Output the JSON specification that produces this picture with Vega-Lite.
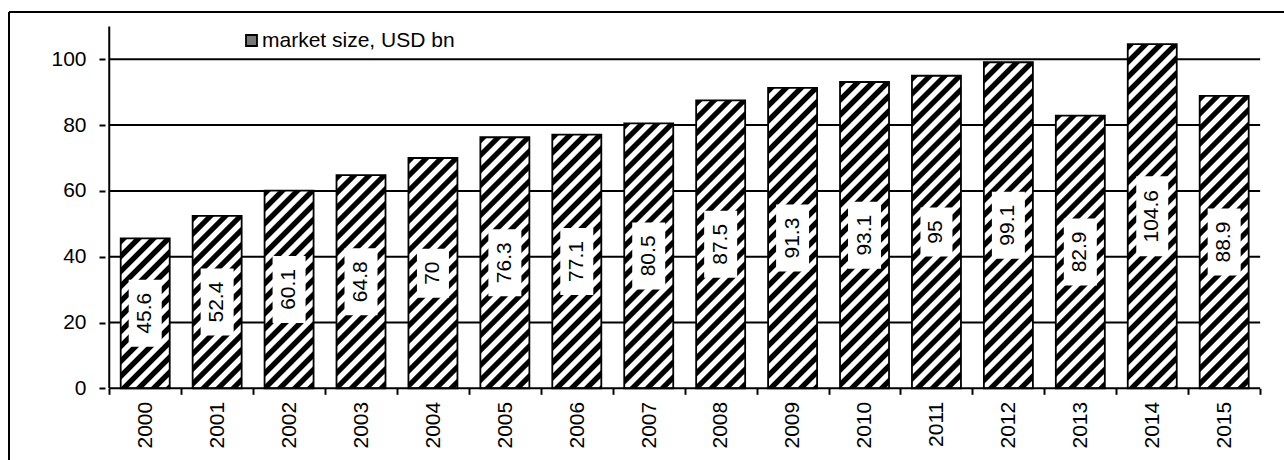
{
  "$schema": "https://vega.github.io/schema/vega-lite/v6.json",
  "width": 1275,
  "height": 448,
  "autosize": {"type": "none"},
  "padding": {"left": 9, "top": 12, "right": 0, "bottom": 0},
  "background": "white",
  "params": [
    {"name": "stripes", "value": [
      {"offset":0,"color":"#000"},{"offset":0.0125,"color":"#000"},{"offset":0.01563,"color":"#fff"},{"offset":0.02813,"color":"#fff"},
      {"offset":0.03125,"color":"#000"},{"offset":0.04375,"color":"#000"},{"offset":0.04688,"color":"#fff"},{"offset":0.05938,"color":"#fff"},
      {"offset":0.0625,"color":"#000"},{"offset":0.075,"color":"#000"},{"offset":0.07813,"color":"#fff"},{"offset":0.09063,"color":"#fff"},
      {"offset":0.09375,"color":"#000"},{"offset":0.10625,"color":"#000"},{"offset":0.10938,"color":"#fff"},{"offset":0.12188,"color":"#fff"},
      {"offset":0.125,"color":"#000"},{"offset":0.1375,"color":"#000"},{"offset":0.14063,"color":"#fff"},{"offset":0.15313,"color":"#fff"},
      {"offset":0.15625,"color":"#000"},{"offset":0.16875,"color":"#000"},{"offset":0.17188,"color":"#fff"},{"offset":0.18438,"color":"#fff"},
      {"offset":0.1875,"color":"#000"},{"offset":0.2,"color":"#000"},{"offset":0.20313,"color":"#fff"},{"offset":0.21563,"color":"#fff"},
      {"offset":0.21875,"color":"#000"},{"offset":0.23125,"color":"#000"},{"offset":0.23438,"color":"#fff"},{"offset":0.24688,"color":"#fff"},
      {"offset":0.25,"color":"#000"},{"offset":0.2625,"color":"#000"},{"offset":0.26563,"color":"#fff"},{"offset":0.27813,"color":"#fff"},
      {"offset":0.28125,"color":"#000"},{"offset":0.29375,"color":"#000"},{"offset":0.29688,"color":"#fff"},{"offset":0.30938,"color":"#fff"},
      {"offset":0.3125,"color":"#000"},{"offset":0.325,"color":"#000"},{"offset":0.32813,"color":"#fff"},{"offset":0.34063,"color":"#fff"},
      {"offset":0.34375,"color":"#000"},{"offset":0.35625,"color":"#000"},{"offset":0.35938,"color":"#fff"},{"offset":0.37188,"color":"#fff"},
      {"offset":0.375,"color":"#000"},{"offset":0.3875,"color":"#000"},{"offset":0.39063,"color":"#fff"},{"offset":0.40313,"color":"#fff"},
      {"offset":0.40625,"color":"#000"},{"offset":0.41875,"color":"#000"},{"offset":0.42188,"color":"#fff"},{"offset":0.43438,"color":"#fff"},
      {"offset":0.4375,"color":"#000"},{"offset":0.45,"color":"#000"},{"offset":0.45313,"color":"#fff"},{"offset":0.46563,"color":"#fff"},
      {"offset":0.46875,"color":"#000"},{"offset":0.48125,"color":"#000"},{"offset":0.48438,"color":"#fff"},{"offset":0.49688,"color":"#fff"},
      {"offset":0.5,"color":"#000"},{"offset":0.5125,"color":"#000"},{"offset":0.51563,"color":"#fff"},{"offset":0.52813,"color":"#fff"},
      {"offset":0.53125,"color":"#000"},{"offset":0.54375,"color":"#000"},{"offset":0.54688,"color":"#fff"},{"offset":0.55938,"color":"#fff"},
      {"offset":0.5625,"color":"#000"},{"offset":0.575,"color":"#000"},{"offset":0.57813,"color":"#fff"},{"offset":0.59063,"color":"#fff"},
      {"offset":0.59375,"color":"#000"},{"offset":0.60625,"color":"#000"},{"offset":0.60938,"color":"#fff"},{"offset":0.62188,"color":"#fff"},
      {"offset":0.625,"color":"#000"},{"offset":0.6375,"color":"#000"},{"offset":0.64063,"color":"#fff"},{"offset":0.65313,"color":"#fff"},
      {"offset":0.65625,"color":"#000"},{"offset":0.66875,"color":"#000"},{"offset":0.67188,"color":"#fff"},{"offset":0.68438,"color":"#fff"},
      {"offset":0.6875,"color":"#000"},{"offset":0.7,"color":"#000"},{"offset":0.70313,"color":"#fff"},{"offset":0.71563,"color":"#fff"},
      {"offset":0.71875,"color":"#000"},{"offset":0.73125,"color":"#000"},{"offset":0.73438,"color":"#fff"},{"offset":0.74688,"color":"#fff"},
      {"offset":0.75,"color":"#000"},{"offset":0.7625,"color":"#000"},{"offset":0.76563,"color":"#fff"},{"offset":0.77813,"color":"#fff"},
      {"offset":0.78125,"color":"#000"},{"offset":0.79375,"color":"#000"},{"offset":0.79688,"color":"#fff"},{"offset":0.80938,"color":"#fff"},
      {"offset":0.8125,"color":"#000"},{"offset":0.825,"color":"#000"},{"offset":0.82813,"color":"#fff"},{"offset":0.84063,"color":"#fff"},
      {"offset":0.84375,"color":"#000"},{"offset":0.85625,"color":"#000"},{"offset":0.85938,"color":"#fff"},{"offset":0.87188,"color":"#fff"},
      {"offset":0.875,"color":"#000"},{"offset":0.8875,"color":"#000"},{"offset":0.89063,"color":"#fff"},{"offset":0.90313,"color":"#fff"},
      {"offset":0.90625,"color":"#000"},{"offset":0.91875,"color":"#000"},{"offset":0.92188,"color":"#fff"},{"offset":0.93438,"color":"#fff"},
      {"offset":0.9375,"color":"#000"},{"offset":0.95,"color":"#000"},{"offset":0.95313,"color":"#fff"},{"offset":0.96563,"color":"#fff"},
      {"offset":0.96875,"color":"#000"},{"offset":0.98125,"color":"#000"},{"offset":0.98438,"color":"#fff"},{"offset":0.99688,"color":"#fff"}
    ]}
  ],
  "datasets": {
    "market": [
      {"year": 2000, "value": 45.6},
      {"year": 2001, "value": 52.4},
      {"year": 2002, "value": 60.1},
      {"year": 2003, "value": 64.8},
      {"year": 2004, "value": 70},
      {"year": 2005, "value": 76.3},
      {"year": 2006, "value": 77.1},
      {"year": 2007, "value": 80.5},
      {"year": 2008, "value": 87.5},
      {"year": 2009, "value": 91.3},
      {"year": 2010, "value": 93.1},
      {"year": 2011, "value": 95},
      {"year": 2012, "value": 99.1},
      {"year": 2013, "value": 82.9},
      {"year": 2014, "value": 104.6},
      {"year": 2015, "value": 88.9}
    ],
    "grid": [{"tick": 20}, {"tick": 40}, {"tick": 60}, {"tick": 80}, {"tick": 100}],
    "axisline": [{"axis": "main"}]
  },
  "config": {
    "view": {"stroke": "black", "strokeWidth": 2, "strokeDash": [1275, 1723, 448, 0]},
    "font": "Liberation Sans",
    "axis": {"labelFont": "Liberation Sans", "labelFontSize": 21, "labelColor": "black", "tickColor": "black", "tickWidth": 2}
  },
  "layer": [
    {
      "layer": [
        {
          "data": {"name": "grid"},
          "mark": {"type": "rule", "stroke": "black", "strokeWidth": 2},
          "encoding": {
            "y": {"field": "tick", "type": "quantitative", "title": null},
            "x": {"datum": 1999.5},
            "x2": {"datum": 2015.5}
          }
        },
        {
          "data": {"name": "axisline"},
          "mark": {"type": "rule", "stroke": "black", "strokeWidth": 2},
          "encoding": {
            "x": {"datum": 1999.5},
            "y": {"datum": 0},
            "y2": {"datum": 110}
          }
        },
        {
          "data": {"name": "market"},
          "mark": {"type": "bar", "orient": "vertical", "width": 49, "strokeWidth": 1.8},
          "encoding": {
            "x": {
              "field": "year", "type": "quantitative", "title": null,
              "scale": {"domain": [1998.17586, 2015.76207], "nice": false, "zero": false},
              "axis": {
                "values": [1999.5, 2000.5, 2001.5, 2002.5, 2003.5, 2004.5, 2005.5, 2006.5, 2007.5, 2008.5, 2009.5, 2010.5, 2011.5, 2012.5, 2013.5, 2014.5, 2015.5],
                "labelExpr": "datum.value > 2015 ? '' : '' + (datum.value + 0.5)",
                "labelOffset": 36.25,
                "labelAngle": 270,
                "labelAlign": "right",
                "labelBaseline": "middle",
                "labelPadding": 7,
                "labelOverlap": false,
                "labelFlush": false,
                "domain": false,
                "grid": false,
                "tickSize": 6,
                "offset": -71.7,
                "title": null
              }
            },
            "y": {
              "field": "value", "type": "quantitative", "title": null,
              "scale": {"domain": [-21.793, 114.377], "nice": false, "zero": false},
              "axis": {
                "values": [0, 20, 40, 60, 80, 100],
                "domain": false,
                "grid": false,
                "tickSize": 6,
                "labelPadding": 13,
                "offset": -96,
                "title": null
              }
            },
            "stroke": {
              "datum": "market size, USD bn",
              "scale": {"range": ["black"]},
              "legend": {
                "orient": "none", "legendX": 232, "legendY": 18, "title": null,
                "symbolType": "square", "symbolSize": 121, "symbolStrokeWidth": 1.8,
                "symbolStrokeColor": "black",
                "symbolFillColor": {"expr": "{gradient:'linear',x1:0,y1:0,x2:1,y2:1,stops:[{offset:0,color:'#fff'},{offset:0.5,color:'#fff'},{offset:0.5,color:'#000'},{offset:1,color:'#000'}]}"},
                "labelFont": "Liberation Sans", "labelFontSize": 21, "labelColor": "black",
                "labelOffset": 0, "labelLimit": 0, "padding": 0
              }
            },
            "fill": {
              "condition": [
                {"test": "datum.year == 2000", "value": {"expr": "{gradient:'linear',x1:0,y1:0,x2:480*49/(2401+pow(45.6*3.29,2)),y2:480*45.6*3.29/(2401+pow(45.6*3.29,2)),stops:stripes}"}},
                {"test": "datum.year == 2001", "value": {"expr": "{gradient:'linear',x1:0,y1:0,x2:480*49/(2401+pow(52.4*3.29,2)),y2:480*52.4*3.29/(2401+pow(52.4*3.29,2)),stops:stripes}"}},
                {"test": "datum.year == 2002", "value": {"expr": "{gradient:'linear',x1:0,y1:0,x2:480*49/(2401+pow(60.1*3.29,2)),y2:480*60.1*3.29/(2401+pow(60.1*3.29,2)),stops:stripes}"}},
                {"test": "datum.year == 2003", "value": {"expr": "{gradient:'linear',x1:0,y1:0,x2:480*49/(2401+pow(64.8*3.29,2)),y2:480*64.8*3.29/(2401+pow(64.8*3.29,2)),stops:stripes}"}},
                {"test": "datum.year == 2004", "value": {"expr": "{gradient:'linear',x1:0,y1:0,x2:480*49/(2401+pow(70*3.29,2)),y2:480*70*3.29/(2401+pow(70*3.29,2)),stops:stripes}"}},
                {"test": "datum.year == 2005", "value": {"expr": "{gradient:'linear',x1:0,y1:0,x2:480*49/(2401+pow(76.3*3.29,2)),y2:480*76.3*3.29/(2401+pow(76.3*3.29,2)),stops:stripes}"}},
                {"test": "datum.year == 2006", "value": {"expr": "{gradient:'linear',x1:0,y1:0,x2:480*49/(2401+pow(77.1*3.29,2)),y2:480*77.1*3.29/(2401+pow(77.1*3.29,2)),stops:stripes}"}},
                {"test": "datum.year == 2007", "value": {"expr": "{gradient:'linear',x1:0,y1:0,x2:480*49/(2401+pow(80.5*3.29,2)),y2:480*80.5*3.29/(2401+pow(80.5*3.29,2)),stops:stripes}"}},
                {"test": "datum.year == 2008", "value": {"expr": "{gradient:'linear',x1:0,y1:0,x2:480*49/(2401+pow(87.5*3.29,2)),y2:480*87.5*3.29/(2401+pow(87.5*3.29,2)),stops:stripes}"}},
                {"test": "datum.year == 2009", "value": {"expr": "{gradient:'linear',x1:0,y1:0,x2:480*49/(2401+pow(91.3*3.29,2)),y2:480*91.3*3.29/(2401+pow(91.3*3.29,2)),stops:stripes}"}},
                {"test": "datum.year == 2010", "value": {"expr": "{gradient:'linear',x1:0,y1:0,x2:480*49/(2401+pow(93.1*3.29,2)),y2:480*93.1*3.29/(2401+pow(93.1*3.29,2)),stops:stripes}"}},
                {"test": "datum.year == 2011", "value": {"expr": "{gradient:'linear',x1:0,y1:0,x2:480*49/(2401+pow(95*3.29,2)),y2:480*95*3.29/(2401+pow(95*3.29,2)),stops:stripes}"}},
                {"test": "datum.year == 2012", "value": {"expr": "{gradient:'linear',x1:0,y1:0,x2:480*49/(2401+pow(99.1*3.29,2)),y2:480*99.1*3.29/(2401+pow(99.1*3.29,2)),stops:stripes}"}},
                {"test": "datum.year == 2013", "value": {"expr": "{gradient:'linear',x1:0,y1:0,x2:480*49/(2401+pow(82.9*3.29,2)),y2:480*82.9*3.29/(2401+pow(82.9*3.29,2)),stops:stripes}"}},
                {"test": "datum.year == 2014", "value": {"expr": "{gradient:'linear',x1:0,y1:0,x2:480*49/(2401+pow(104.6*3.29,2)),y2:480*104.6*3.29/(2401+pow(104.6*3.29,2)),stops:stripes}"}},
                {"test": "datum.year == 2015", "value": {"expr": "{gradient:'linear',x1:0,y1:0,x2:480*49/(2401+pow(88.9*3.29,2)),y2:480*88.9*3.29/(2401+pow(88.9*3.29,2)),stops:stripes}"}}
              ],
              "value": "#777"
            }
          }
        },
        {
          "data": {"name": "axisline"},
          "mark": {"type": "rule", "stroke": "black", "strokeWidth": 2},
          "encoding": {
            "y": {"datum": 0},
            "x": {"datum": 1999.5},
            "x2": {"datum": 2015.5}
          }
        }
      ]
    },
    {
      "data": {"name": "market"},
      "encoding": {
        "x": {"field": "year", "type": "quantitative", "title": null},
        "y": {
          "field": "value", "type": "quantitative", "title": null,
          "scale": {"domain": [-43.586, 228.754], "nice": false, "zero": false},
          "axis": null
        }
      },
      "layer": [
        {
          "mark": {"type": "point", "filled": true, "fill": "white", "opacity": 1, "strokeWidth": 0, "size": 400},
          "encoding": {
            "shape": {
              "condition": [
                {"test": "datum.value >= 100", "value": "M-1.6,-4H1.6V4H-1.6Z"},
                {"test": "datum.value == 70 || datum.value == 95", "value": "M-1.6,-2.45H1.6V2.45H-1.6Z"}
              ],
              "value": "M-1.65,-3.35H1.65V3.35H-1.65Z"
            }
          }
        },
        {
          "mark": {"type": "text", "angle": 270, "fontSize": 21, "font": "Liberation Sans", "color": "black", "align": "center", "baseline": "middle"},
          "encoding": {
            "text": {"field": "value", "type": "quantitative"}
          }
        }
      ]
    }
  ],
  "resolve": {"scale": {"y": "independent"}}
}
